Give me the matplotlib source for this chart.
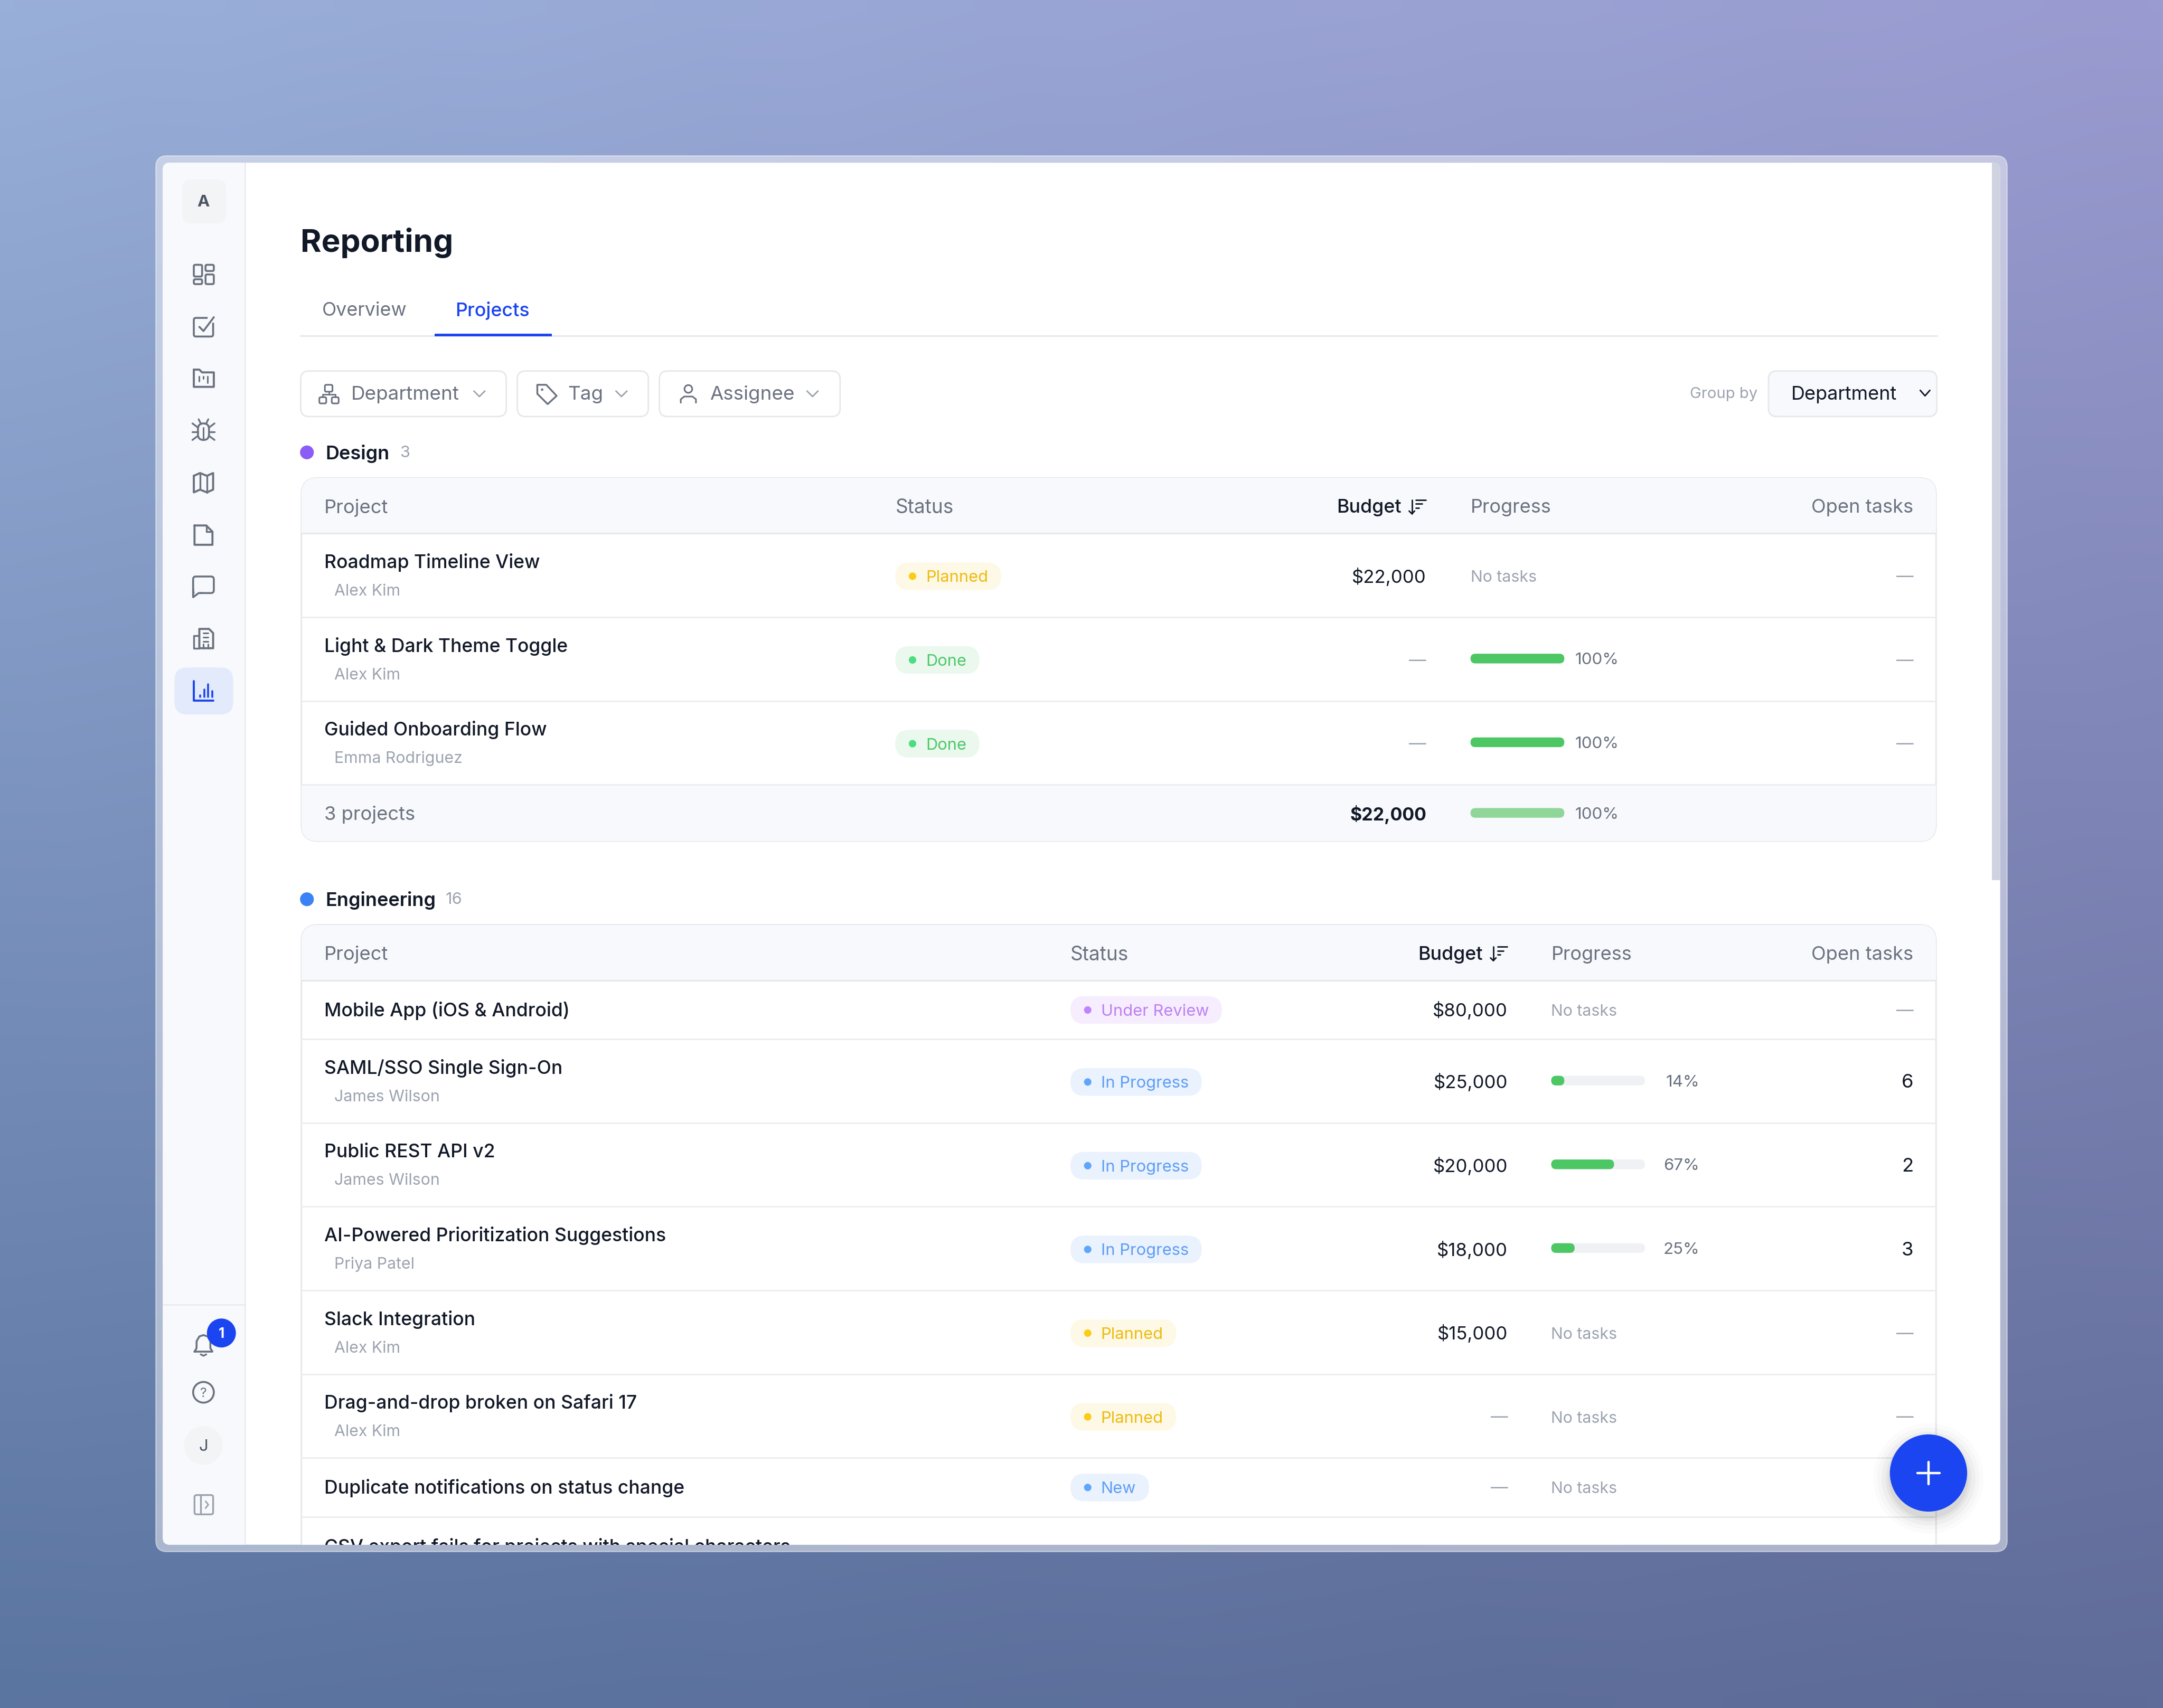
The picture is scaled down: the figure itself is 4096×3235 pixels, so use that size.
import numpy as np
import matplotlib
matplotlib.use("Agg")
import matplotlib.pyplot as plt
from matplotlib.patches import FancyBboxPatch, Circle, Rectangle, Polygon
from matplotlib.lines import Line2D
from matplotlib.text import Text
from matplotlib.transforms import Bbox

plt.rcParams['font.family'] = ['Inter', 'DejaVu Sans']

# data
nav_y = [199, 237, 274, 312, 350, 388, 425, 463, 501]

design_names = ["Roadmap Timeline View", "Light & Dark Theme Toggle", "Guided Onboarding Flow"]
design_people = ["Alex Kim", "Alex Kim", "Emma Rodriguez"]
design_status = ["Planned", "Done", "Done"]
design_budget = ["$22,000", None, None]
design_progress = [None, 100, 100]
design_open = [None, None, None]

eng_names = ["Mobile App (iOS & Android)", "SAML/SSO Single Sign-On", "Public REST API v2",
             "AI-Powered Prioritization Suggestions", "Slack Integration",
             "Drag-and-drop broken on Safari 17", "Duplicate notifications on status change",
             "CSV export fails for projects with special characters"]
eng_people = [None, "James Wilson", "James Wilson", "Priya Patel", "Alex Kim", "Alex Kim", None, None]
eng_status = ["Under Review", "In Progress", "In Progress", "In Progress", "Planned", "Planned", "New", None]
eng_budget = ["$80,000", "$25,000", "$20,000", "$18,000", "$15,000", None, None, None]
eng_progress = [None, 14, 67, 25, None, None, None, None]
eng_open = [None, 6, 2, 3, None, None, None, None]

status_colors = {
    "Planned": ("#FEF9E6", "#EDBB10", "#FACC15"),
    "Done": ("#EAF8EE", "#4FC76A", "#4ADE80"),
    "In Progress": ("#EAF2FE", "#5F9DF5", "#60A5FA"),
    "New": ("#EAF2FE", "#5F9DF5", "#60A5FA"),
    "Under Review": ("#F6EDFE", "#BE80F5", "#C084FC"),
}

INK = "#111827"
GREY = "#6B7280"
LIGHT = "#9CA3AF"
BORDER = "#E5E7EB"
HEAD = "#F8F9FC"
BLUE = "#1B45F0"
GREEN = "#4CC764"

W, H = 1568, 3235 * 1568 / 4096
fig = plt.figure(figsize=(4096 / 200, 3235 / 200), dpi=200)
ax = fig.add_axes([0, 0, 1, 1])


def fs(px):
    # font size from px of the 1568 wide layout
    return px * (4096 / 1568) * 72 / 200


def rrect(x0, y0, x1, y1, r=0, fc="none", ec="none", lw=1.0, z=2, **kw):
    p = FancyBboxPatch((x0, y0), x1 - x0, y1 - y0, boxstyle="round,pad=0,rounding_size=%s" % r,
                       fc=fc, ec=ec, lw=lw, zorder=z, **kw)
    ax.add_patch(p)
    return p


def line(xs, ys, color=GREY, lw=1.4, z=5):
    ax.plot(xs, ys, color=color, lw=lw, zorder=z, solid_capstyle="round", solid_joinstyle="round")


def circle(x, y, r, fc="none", ec="none", lw=1.4, z=5, alpha=None):
    ax.add_patch(Circle((x, y), r, fc=fc, ec=ec, lw=lw, zorder=z, alpha=alpha))


def label(x, y, s, size=13.7, color=INK, ha="left", weight="normal", z=6):
    return ax.text(x, y - 0.7, s, fontsize=fs(size), color=color, ha=ha, va="center_baseline", weight=weight, zorder=z)


def chevron(x, y, color=LIGHT, w=4, lw=1.0):
    line([x - w, x, x + w], [y - 2, y + 2, y - 2], color, lw)


# background
c_tl, c_tr = np.array([0x98, 0xAF, 0xD9]), np.array([0x9A, 0x9B, 0xD0])
c_bl, c_br = np.array([0x5B, 0x75, 0xA1]), np.array([0x5F, 0x6B, 0x98])
u, v = np.meshgrid(np.linspace(0, 1, 80), np.linspace(0, 1, 80))
u, v = u[..., None], v[..., None]
grad = ((1 - u) * (1 - v) * c_tl + u * (1 - v) * c_tr + (1 - u) * v * c_bl + u * v * c_br) / 255
ax.imshow(grad, extent=[0, W, H, 0], aspect="auto", zorder=0, interpolation="bilinear")
ax.set_xlim(0, W)
ax.set_ylim(H, 0)
ax.axis("off")

# window
frame = rrect(113, 113, 1455, 1125, r=8, fc=(1, 1, 1, 0.47), ec=(1, 1, 1, 0.45), lw=0.8, z=1)
win = rrect(118, 118, 1450, 1120, r=5, fc="white", z=1.5)
keep = set(ax.get_children())
boxed = []

# sidebar
ax.add_patch(Rectangle((118, 118), 59.5, 1002, fc=HEAD, ec="none", zorder=2))
line([177.5, 177.5], [118, 1120], "#E8EAEE", 0.9, 3)
line([118, 177.5], [946, 946], "#E8EAEE", 0.9, 3)
rrect(132, 130, 164, 162, r=7, fc="#F3F4F6", z=3)
label(147.5, 146, "A", 12, "#4B5563", "center", "bold")
rrect(126.5, 484, 169, 518, r=9, fc="#E3EAFB", z=3)

for y, kind in zip(nav_y, ["grid", "check", "folder", "bug", "map", "file", "chat", "building", "bars"]):
    cx = 147.5
    if kind == "grid":
        for a, b, c, d in [(-7, -7, -1, 1.5), (1.5, -7, 7.5, -2.5), (-7, 3.5, -1, 7), (1.5, 0, 7.5, 7)]:
            rrect(cx + a, y + b, cx + c, y + d, r=1, ec=GREY, lw=1.3, z=5)
    elif kind == "check":
        rrect(cx - 7, y - 6.5, cx + 7, y + 7, r=1.5, ec=GREY, lw=1.3, z=5)
        rrect(cx + 3, y - 9, cx + 9, y - 3, fc=HEAD, z=5.2)
        line(np.array([-3, 0, 7.5]) + cx, np.array([0, 3, -7]) + y, GREY, 1.3, 6)
    elif kind == "folder":
        line(np.array([-7, -7, 7.5, 7.5, -1, -3, -7]) + cx, np.array([-6, 6.5, 6.5, -4, -4, -6, -6]) + y)
        line([cx - 3, cx - 3], [y - 1, y + 2.5], GREY, 1.1)
        line([cx, cx], [y - 1, y + 0.5], GREY, 1.1)
        line([cx + 3, cx + 3], [y - 1, y + 3.5], GREY, 1.1)
    elif kind == "bug":
        ax.add_patch(FancyBboxPatch((cx - 4, y - 5), 8, 12, boxstyle="round,pad=0,rounding_size=4",
                                    fc="none", ec=GREY, lw=1.3, zorder=5))
        line([cx, cx], [y - 2, y + 7], GREY, 1.1)
        for sx in (-1, 1):
            line([cx + sx * 4, cx + sx * 8], [y - 2, y - 5], GREY, 1.2)
            line([cx + sx * 4, cx + sx * 8], [y + 1, y + 1], GREY, 1.2)
            line([cx + sx * 4, cx + sx * 8], [y + 4, y + 7], GREY, 1.2)
            line([cx + sx * 2, cx + sx * 3.5], [y - 5, y - 8], GREY, 1.2)
    elif kind == "map":
        line(np.array([-7, -2.5, 2.5, 7, 7, 2.5, -2.5, -7, -7]) + cx,
             np.array([-5, -7, -5, -7, 5, 7, 5, 7, -5]) + y)
        line([cx - 2.5, cx - 2.5], [y - 7, y + 5], GREY, 1.2)
        line([cx + 2.5, cx + 2.5], [y - 5, y + 7], GREY, 1.2)
    elif kind == "file":
        line(np.array([-6.5, -6.5, 6.5, 6.5, 2, -6.5]) + cx, np.array([-7, 7, 7, -2.5, -7, -7]) + y)
        line(np.array([2, 2, 6.5]) + cx, np.array([-7, -2.5, -2.5]) + y, GREY, 1.2)
    elif kind == "chat":
        rrect(cx - 7.5, y - 7, cx + 7.5, y + 5, r=2, ec=GREY, lw=1.3, z=5)
        rrect(cx - 6.5, y + 3.5, cx - 2.5, y + 6.5, fc=HEAD, z=5.2)
        line(np.array([-7.5, -7.5, -3.5, -1]) + cx, np.array([2, 8, 5, 5]) + y, GREY, 1.3, 6)
    elif kind == "building":
        line(np.array([-3, -3, 4, 7, 7, -3]) + cx, np.array([7, -7, -7, -4, 7, 7]) + y)
        line(np.array([-3, -7, -7, -3]) + cx, np.array([-2, -2, 7, 7]) + y, GREY, 1.2)
        for b in (-4, -1, 2):
            line([cx, cx + 3.5], [y + b, y + b], GREY, 1.1)
        line([cx, cx], [y + 4, y + 7], GREY, 1.1)
        line([cx + 3.5, cx + 3.5], [y + 4, y + 7], GREY, 1.1)
    elif kind == "bars":
        line(np.array([-7, -7, 7]) + cx, np.array([-7, 7, 7]) + y, BLUE, 1.4)
        for dx, top in [(-3, 3), (0, -1), (3, -5), (6, 0)]:
            line([cx + dx + 0.5, cx + dx + 0.5], [y + top, y + 4.5], BLUE, 1.3)

# bell
line(np.array([-6.5, -5, -5, -3, 0, 3, 5, 5, 6.5, -6.5]) + 147.5,
     np.array([5, 2.5, -2.5, -6, -7, -6, -2.5, 2.5, 5, 5]) + 975, GREY, 1.3)
line([145.5, 147.5, 149.5], [982, 983, 982], GREY, 1.2)
circle(160.5, 966.5, 10.5, fc=BLUE, z=7)
label(160.5, 967, "1", 10, "white", "center", "bold", z=8)
circle(147.5, 1009.5, 7.5, ec=GREY, lw=1.3)
label(147.5, 1010, "?", 9.5, GREY, "center")
circle(147.5, 1048, 14, fc="#F3F4F6")
label(147.5, 1048.5, "J", 12, "#4B5563", "center")
rrect(141, 1084, 154.5, 1098, r=1.5, ec=LIGHT, lw=1.2, z=5)
line([145.5, 145.5], [1084, 1098], LIGHT, 1.2)
line([149, 151, 149], [1088.5, 1091, 1093.5], LIGHT, 1.0)

# heading and tabs
label(218, 174.5, "Reporting", 23.1, INK, weight="bold")
label(233.5, 224.5, "Overview", 13.7, GREY)
label(330, 224.5, "Projects", 13.7, BLUE, weight="medium")
line([218, 1404], [243.5, 243.5], "#E8EAEE", 1.2, 3)
ax.add_patch(Rectangle((315, 241.8), 85, 2, fc=BLUE, ec="none", zorder=4))

# filters
for x0, x1, s, tx, cvx in [(218, 367, "Department", 254.5, 347.5), (375, 470, "Tag", 411.5, 450.5),
                           (478, 609, "Assignee", 514.5, 589)]:
    rrect(x0, 269, x1, 302, r=6, fc="white", ec=BORDER, lw=1.0, z=3)
    label(tx, 285.5, s, 14.1, GREY)
    chevron(cvx, 285.5)
# department icon
rrect(235.5, 279, 241, 284, r=1, ec=GREY, lw=1.1, z=5)
rrect(231.5, 288, 236.5, 292.5, r=1, ec=GREY, lw=1.1, z=5)
rrect(240.5, 288, 245.5, 292.5, r=1, ec=GREY, lw=1.1, z=5)
line([234, 234, 243, 243], [288, 286, 286, 288], GREY, 1.0)
line([238.5, 238.5], [284, 286], GREY, 1.0)
# tag icon
ax.add_patch(Polygon([(389.5, 279), (396, 279), (403.5, 287), (397, 293), (389.5, 285.5)], closed=True,
                     fc="none", ec=GREY, lw=1.2, joinstyle="round", zorder=5))
circle(393, 282.5, 0.9, fc=GREY, lw=0)
# person icon
circle(499, 282, 2.8, ec=GREY, lw=1.1)
line([493.5, 493.5, 496, 502, 504.5, 504.5], [292, 289.5, 287.5, 287.5, 289.5, 292], GREY, 1.1)

label(1274, 285.5, "Group by", 11.2, LIGHT, "right")
rrect(1282, 269, 1404, 302, r=6, fc=HEAD, ec=BORDER, lw=1.0, z=3)
label(1298.5, 285.5, "Department", 13.8, INK)
chevron(1395.5, 285, INK, 3.5)


def pill(x, yc, status):
    bg, fg, dot = status_colors[status]
    t = label(x + 22, yc + 0.7, status, 11.8, fg)
    width = t.get_window_extent(fig.canvas.get_renderer()).width * W / 4096
    rrect(x, yc - 10, x + 22 + width + 9.5, yc + 10, r=10, fc=bg, z=4)
    circle(x + 12.5, yc, 2.7, fc=dot, z=5)


def bar(x, yc, pct, color=GREEN):
    rrect(x, yc - 3.5, x + 68, yc + 3.5, r=3.5, fc="#F0F1F4", z=4)
    rrect(x, yc - 3.5, x + 68 * pct / 100, yc + 3.5, r=3.5, fc=color, z=5)
    label(x + 107.5, yc + 0.7, "%d%%" % pct, 12, GREY, "right")


def dash(x, y):
    label(x, y + 0.7, "\u2014", 12.5, LIGHT, "right")


def table(y_top, title, count, dot, count_x, col_status, col_budget, col_progress,
          names, people, status, budget, progress, opened, footer=None):
    title_y = y_top - 18.5
    circle(222.5, title_y, 5, fc=dot)
    label(236, title_y + 0.3, title, 13.8, INK, weight="semibold")
    label(count_x, title_y, str(count), 11.8, LIGHT)

    left, right = 218.5, 1403.5
    heights = [60.7 if p else 42.7 for p in people]
    bottom = y_top + 40.3 + sum(heights) + (41 if footer else 60)
    box = rrect(left, y_top, right, bottom, r=12, fc="white", ec=BORDER, lw=1.0, z=2)
    head = Rectangle((left, y_top), right - left, 40.3, fc=HEAD, ec="none", zorder=2.5)
    ax.add_patch(head)
    head.set_clip_path(box)
    boxed.append(head)
    line([left, right], [y_top + 40.3, y_top + 40.3], BORDER, 1.0, 3)
    yh = y_top + 21
    label(235, yh, "Project", 13.9, GREY)
    label(col_status, yh, "Status", 14.2, GREY)
    label(col_budget - 18, yh, "Budget", 13.7, INK, "right", "medium")
    sx = col_budget - 12
    line([sx + 1.5, sx + 1.5], [yh - 5, yh + 5], INK, 1.0)
    line([sx - 0.5, sx + 1.5, sx + 3.5], [yh + 3, yh + 5, yh + 3], INK, 1.0)
    for i, ln in enumerate([10, 7.5, 5]):
        line([sx + 4.5, sx + 1.5 + ln], [yh - 5 + i * 2.8] * 2, INK, 1.0)
    label(col_progress, yh, "Progress", 13.8, GREY)
    label(1387, yh, "Open tasks", 13.9, GREY, "right")

    y = y_top + 40.3
    for i, h in enumerate(heights):
        two = people[i] is not None
        yc = y + (31 if two else 21.5)
        label(235, y + (20.5 if two else 21.5), names[i], 13.6, INK, weight="medium")
        if two:
            label(242.5, y + 41.5, people[i], 11.6, LIGHT)
        if status[i]:
            pill(col_status, yc, status[i])
            if budget[i]:
                label(col_budget, yc, budget[i], 13.3, INK, "right")
            else:
                dash(col_budget, yc - 0.5)
            if progress[i] is not None:
                bar(col_progress, yc - 1, progress[i])
            else:
                label(col_progress, yc + 0.7, "No tasks", 11.6, LIGHT)
            if opened[i] is not None:
                label(1387, yc, str(opened[i]), 14, INK, "right")
            else:
                dash(1387, yc - 0.5)
        y += h
        line([left, right], [y, y], "#EAECEF", 1.0, 3)

    if footer:
        foot = Rectangle((left, y), right - left, 41, fc=HEAD, ec="none", zorder=2.5)
        ax.add_patch(foot)
        foot.set_clip_path(box)
        boxed.append(foot)
        label(235, y + 21, footer[0], 13.9, GREY)
        label(col_budget, y + 21, footer[1], 13, INK, "right", "bold")
        bar(col_progress, y + 20.5, footer[2], "#90D698")


table(346.5, "Design", len(design_names), "#8B5CF6", 290, 649, 1034, 1066,
      design_names, design_people, design_status, design_budget, design_progress, design_open,
      footer=("3 projects", "$22,000", 100))
table(670.5, "Engineering", 16, "#3B82F6", 323, 776, 1093, 1124.5,
      eng_names, eng_people, eng_status, eng_budget, eng_progress, eng_open)

# scrollbar
ax.add_patch(Rectangle((1444, 118), 6, 520, fc="#CFD3DF", ec="none", zorder=6))

# add button
for grow, a in [(12, 0.015), (9, 0.02), (6, 0.03), (3, 0.04), (1, 0.05)]:
    circle(1398, 1072, 28 + grow, fc=(0, 0, 0, a), z=8)
circle(1398, 1068, 28, fc=BLUE, z=9)
line([1398, 1398], [1060, 1076], "white", 1.6, 10)
line([1390, 1406], [1068, 1068], "white", 1.6, 10)

# everything in the window stops at its edge (agg ignores clip paths on text, so text gets a box)
win_box = Bbox(ax.transData.transform([(118, 1120), (1450, 118)]))
for art in ax.get_children():
    if art in keep or art in boxed:
        continue
    if isinstance(art, Text):
        art.set_clip_path(None)
        art.set_clip_box(win_box)
        art.set_clip_on(True)
    elif isinstance(art, (Line2D, FancyBboxPatch, Circle, Rectangle, Polygon)):
        art.set_clip_on(True)
        art.set_clip_path(win)

fig.savefig("out.png", dpi=200)
